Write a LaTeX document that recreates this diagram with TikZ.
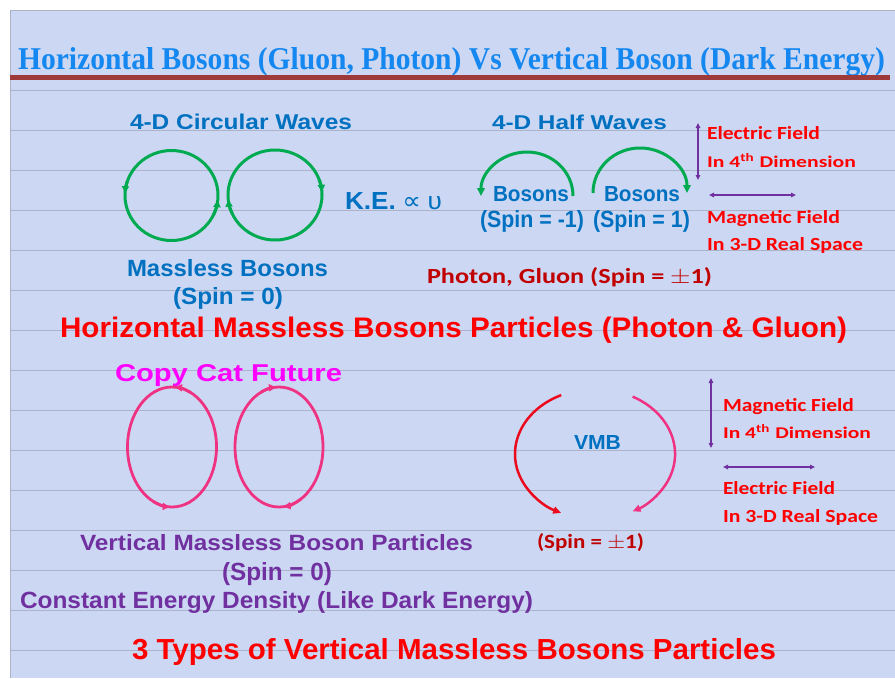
\documentclass[tikz,border=0pt]{standalone}
\usepackage{fontspec}
\usepackage{graphicx}
\setmainfont{Liberation Serif}
\newfontfamily\arialf{Liberation Sans}
\newfontfamily\calf{Carlito}
\newfontfamily\djv{DejaVu Sans}
\usetikzlibrary{arrows.meta}
\definecolor{bg}{RGB}{204,216,243}
\definecolor{gridl}{RGB}{172,178,200}
\definecolor{ttlblue}{RGB}{20,135,240}
\definecolor{barred}{RGB}{158,58,58}
\definecolor{blu}{RGB}{0,112,192}
\definecolor{grn}{RGB}{0,170,80}
\definecolor{red1}{RGB}{255,0,0}
\definecolor{dred}{RGB}{192,0,0}
\definecolor{mag}{RGB}{255,0,255}
\definecolor{pnk}{RGB}{240,50,130}
\definecolor{purp}{RGB}{112,48,160}
\definecolor{vred}{RGB}{235,10,30}
\newcommand{\fitt}[3]{\resizebox{#1pt}{#2pt}{#3}}
\tikzset{
  t/.style={inner sep=0pt, outer sep=0pt, anchor=base west},
  gline/.style={grn, line width=3pt},
  pline/.style={pnk, line width=2.8pt},
  tipc/.style={-{Triangle[length=7pt,width=7pt]}},
  parrow/.style={purp, line width=1.2pt, {Triangle[length=5pt,width=4.5pt]}-{Triangle[length=5pt,width=4.5pt]}},
}
\begin{document}
\begin{tikzpicture}[x=1pt,y=-1pt]
\useasboundingbox (0,0) rectangle (895,678);
\fill[white] (0,0) rectangle (895,678);
\fill[bg] (10,10) rectangle (895,678);
\foreach \yy in {90,130,...,650} \draw[gridl, line width=0.7pt] (10,\yy) -- (895,\yy);
\draw[gridl, line width=0.7pt] (10,678) -- (10,10) -- (895,10);

% title
\node[t, text=ttlblue] (title) at (18,69) {\fitt{867}{22}{\bfseries Horizontal Bosons (Gluon, Photon) Vs Vertical Boson (Dark Energy)}};
\fill[barred] (10,75) rectangle (890,80);

% upper left: circular waves
\node[t, text=blu] (circ) at (130,129) {\fitt{222}{15.5}{\arialf\bfseries 4-D Circular Waves}};
\coordinate (c1) at (171.5,195.5);
\coordinate (c2) at (275,195);
\draw[gline] (c1) ellipse [x radius=46.5, y radius=45];
\draw[gline, tipc] (c1) ++(200:46.5 and 45) arc[start angle=200, end angle=183, x radius=46.5, y radius=45];
\draw[gline, tipc] (c1) ++(25:46.5 and 45) arc[start angle=25, end angle=6, x radius=46.5, y radius=45];
\draw[gline] (c2) ellipse [x radius=47, y radius=45];
\draw[gline, tipc] (c2) ++(-20:47 and 45) arc[start angle=-20, end angle=-4, x radius=47, y radius=45];
\draw[gline, tipc] (c2) ++(155:47 and 45) arc[start angle=155, end angle=174, x radius=47, y radius=45];
\node[t, text=blu] (ke) at (345,209) {\fitt{97}{17}{{\arialf\bfseries K.E.} {\djv\char"221D} {\arialf\char"03C5}}};
\node[t, text=blu] (mb) at (127,276) {\fitt{201}{17}{\arialf\bfseries Massless Bosons}};
\node[t, text=blu] (sp0) at (173,304) {\fitt{110}{17}{\arialf\bfseries (Spin = 0)}};

% upper right: half waves
\node[t, text=blu] (half) at (492,129) {\fitt{175}{14.5}{\arialf\bfseries 4-D Half Waves}};
\draw[gline, -{Triangle[length=8pt,width=7.5pt]}] (573,196) arc[start angle=0, end angle=-180, x radius=46, y radius=44];
\draw[gline, -{Triangle[length=8pt,width=7.5pt]}] (593,193) arc[start angle=180, end angle=360, x radius=47, y radius=45];
\node[t, text=blu] (bosL) at (493,201) {\fitt{76}{15}{\arialf\bfseries Bosons}};
\node[t, text=blu] (bosR) at (604,201) {\fitt{76}{15}{\arialf\bfseries Bosons}};
\node[t, text=blu] (spm) at (480,227) {\fitt{104}{17}{\arialf\bfseries (Spin = -1)}};
\node[t, text=blu] (spp) at (593,227) {\fitt{97}{17}{\arialf\bfseries (Spin = 1)}};
\coordinate (v1a) at (698,123); \coordinate (v1b) at (698,180);
\coordinate (h1a) at (709,195); \coordinate (h1b) at (796,195);
\draw[parrow] (v1a) -- (v1b);
\draw[parrow] (h1a) -- (h1b);
\node[t, text=red1] (ef1) at (707,139) {\fitt{113}{13}{\calf\bfseries Electric Field}};
\node[t, text=red1] (d41) at (707,167) {\fitt{149}{14}{\calf\bfseries In 4\textsuperscript{th} Dimension}};
\node[t, text=red1] (mf1) at (707,223) {\fitt{133}{13}{\calf\bfseries Magnetic Field}};
\node[t, text=red1] (rs1) at (707,250) {\fitt{156}{13}{\calf\bfseries In 3-D Real Space}};
\node[t, text=dred] (pg) at (427,283) {\fitt{285}{16}{\calf\bfseries Photon, Gluon (Spin = $\pm$1)}};

% middle heading
\node[t, text=red1] (hmb) at (60,337) {\fitt{787}{20.5}{\arialf\bfseries Horizontal Massless Bosons Particles (Photon \& Gluon)}};
\node[t, text=mag] (ccf) at (115,381) {\fitt{227}{17}{\arialf\bfseries Copy Cat Future}};

% lower left ellipses
\coordinate (e1) at (172,447);
\coordinate (e2) at (279,447);
\draw[pline] (e1) ellipse [x radius=44.5, y radius=60];
\draw[pline, tipc] (e1) ++(295:44.5 and 60) arc[start angle=295, end angle=274, x radius=44.5, y radius=60];
\draw[pline, tipc] (e1) ++(115:44.5 and 60) arc[start angle=115, end angle=93, x radius=44.5, y radius=60];
\draw[pline] (e2) ellipse [x radius=44, y radius=60];
\draw[pline, tipc] (e2) ++(245:44 and 60) arc[start angle=245, end angle=266, x radius=44, y radius=60];
\draw[pline, tipc] (e2) ++(60:44 and 60) arc[start angle=60, end angle=84, x radius=44, y radius=60];

% VMB
\draw[vred, line width=2.5pt, -{Triangle[length=8pt,width=7pt]}] (561.2,395.1) arc[start angle=245, end angle=115, x radius=80, y radius=65];
\draw[pnk, line width=2.5pt, -{Triangle[length=8pt,width=7pt]}] (632.6,396.6) arc[start angle=-62, end angle=62, x radius=80, y radius=65];
\node[t, text=blu] (vmb) at (574,449) {\fitt{47}{14}{\arialf\bfseries VMB}};
\node[t, text=dred] (spv) at (537,548) {\fitt{107}{15}{\calf\bfseries (Spin = $\pm$1)}};
\coordinate (v2a) at (711,378); \coordinate (v2b) at (711,448);
\coordinate (h2a) at (723,467); \coordinate (h2b) at (815,467);
\draw[parrow] (v2a) -- (v2b);
\draw[parrow] (h2a) -- (h2b);
\node[t, text=red1] (mf2) at (723,411) {\fitt{131}{13}{\calf\bfseries Magnetic Field}};
\node[t, text=red1] (d42) at (723,438) {\fitt{148}{14}{\calf\bfseries In 4\textsuperscript{th} Dimension}};
\node[t, text=red1] (ef2) at (723,494) {\fitt{112}{13}{\calf\bfseries Electric Field}};
\node[t, text=red1] (rs2) at (723,522) {\fitt{155}{13}{\calf\bfseries In 3-D Real Space}};

% bottom texts
\node[t, text=purp] (vmbp) at (80,550) {\fitt{393}{16}{\arialf\bfseries Vertical Massless Boson Particles}};
\node[t, text=purp] (sp0b) at (222,580) {\fitt{110}{18}{\arialf\bfseries (Spin = 0)}};
\node[t, text=purp] (ced) at (20,608) {\fitt{513}{17}{\arialf\bfseries Constant Energy Density (Like Dark Energy)}};
\node[t, text=red1] (three) at (132,659) {\fitt{644}{21}{\arialf\bfseries 3 Types of Vertical Massless Bosons Particles}};
\end{tikzpicture}
\end{document}
